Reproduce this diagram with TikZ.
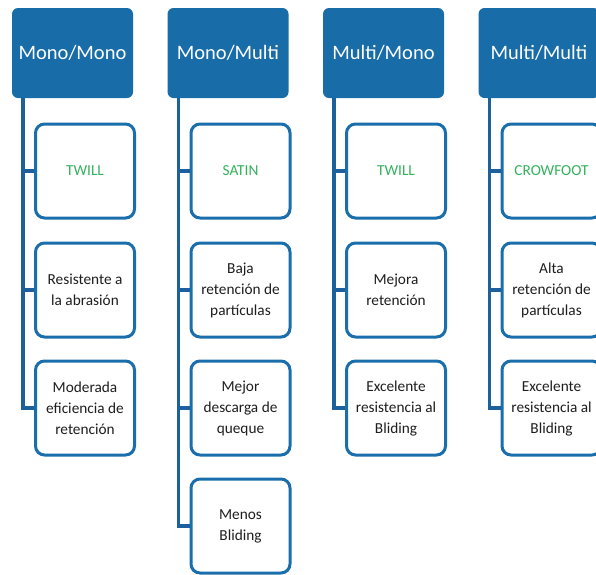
\documentclass[tikz,border=0pt]{standalone}
\usepackage{fontspec}
\setmainfont{Carlito}
\definecolor{hdrblue}{RGB}{24,108,168}
\definecolor{linblue}{RGB}{28,96,156}
\definecolor{boxblue}{RGB}{26,110,172}
\definecolor{twgreen}{RGB}{52,178,92}
\definecolor{txtgray}{RGB}{30,30,30}
\tikzset{
  header/.style={fill=hdrblue, rounded corners=6pt, minimum width=121pt, minimum height=90pt,
    inner sep=0pt, text=white, font=\fontsize{20.5}{24}\selectfont},
  item/.style={draw=boxblue, line width=3pt, fill=white, rounded corners=9pt, minimum width=99pt,
    minimum height=94pt, inner sep=0pt, align=center, text=txtgray,
    font=\fontsize{15.3}{21}\selectfont},
  weave/.style={item, text=twgreen},
  trunk/.style={draw=linblue, line width=3.5pt}
}

\begin{document}
\begin{tikzpicture}[x=1pt,y=1pt]
\useasboundingbox (0,0) rectangle (596,-574);
\clip (0,0) rectangle (596,-574);

% column 1
\node[header] (h1) at (72.5,-53) {Mono/Mono};
\coordinate (t1) at (23,-98);
\node[weave] (b11) at (85,-171) {TWILL};
\node[item] (b12) at (85,-290) {Resistente a\\la abrasión};
\node[item] (b13) at (85,-408) {Moderada\\eficiencia de\\retención};
\draw[trunk] (t1) |- (b13.west);
\draw[trunk] (t1 |- b11.west) -- (b11.west);
\draw[trunk] (t1 |- b12.west) -- (b12.west);

% column 2
\node[header] (h2) at (228,-53) {Mono/Multi};
\coordinate (t2) at (178.5,-98);
\node[weave] (b21) at (240.5,-171) {SATIN};
\node[item] (b22) at (240.5,-290) {Baja\\retención de\\partículas};
\node[item] (b23) at (240.5,-408) {Mejor\\descarga de\\queque};
\node[item] (b24) at (240.5,-526) {Menos\\Bliding};
\draw[trunk] (t2) |- (b24.west);
\draw[trunk] (t2 |- b21.west) -- (b21.west);
\draw[trunk] (t2 |- b22.west) -- (b22.west);
\draw[trunk] (t2 |- b23.west) -- (b23.west);

% column 3
\node[header] (h3) at (383.5,-53) {Multi/Mono};
\coordinate (t3) at (334,-98);
\node[weave] (b31) at (396,-171) {TWILL};
\node[item] (b32) at (396,-290) {Mejora\\retención};
\node[item] (b33) at (396,-408) {Excelente\\resistencia al\\Bliding};
\draw[trunk] (t3) |- (b33.west);
\draw[trunk] (t3 |- b31.west) -- (b31.west);
\draw[trunk] (t3 |- b32.west) -- (b32.west);

% column 4
\node[header] (h4) at (539,-53) {Multi/Multi};
\coordinate (t4) at (489.5,-98);
\node[weave] (b41) at (551.5,-171) {CROWFOOT};
\node[item] (b42) at (551.5,-290) {Alta\\retención de\\partículas};
\node[item] (b43) at (551.5,-408) {Excelente\\resistencia al\\Bliding};
\draw[trunk] (t4) |- (b43.west);
\draw[trunk] (t4 |- b41.west) -- (b41.west);
\draw[trunk] (t4 |- b42.west) -- (b42.west);

\end{tikzpicture}
\end{document}
